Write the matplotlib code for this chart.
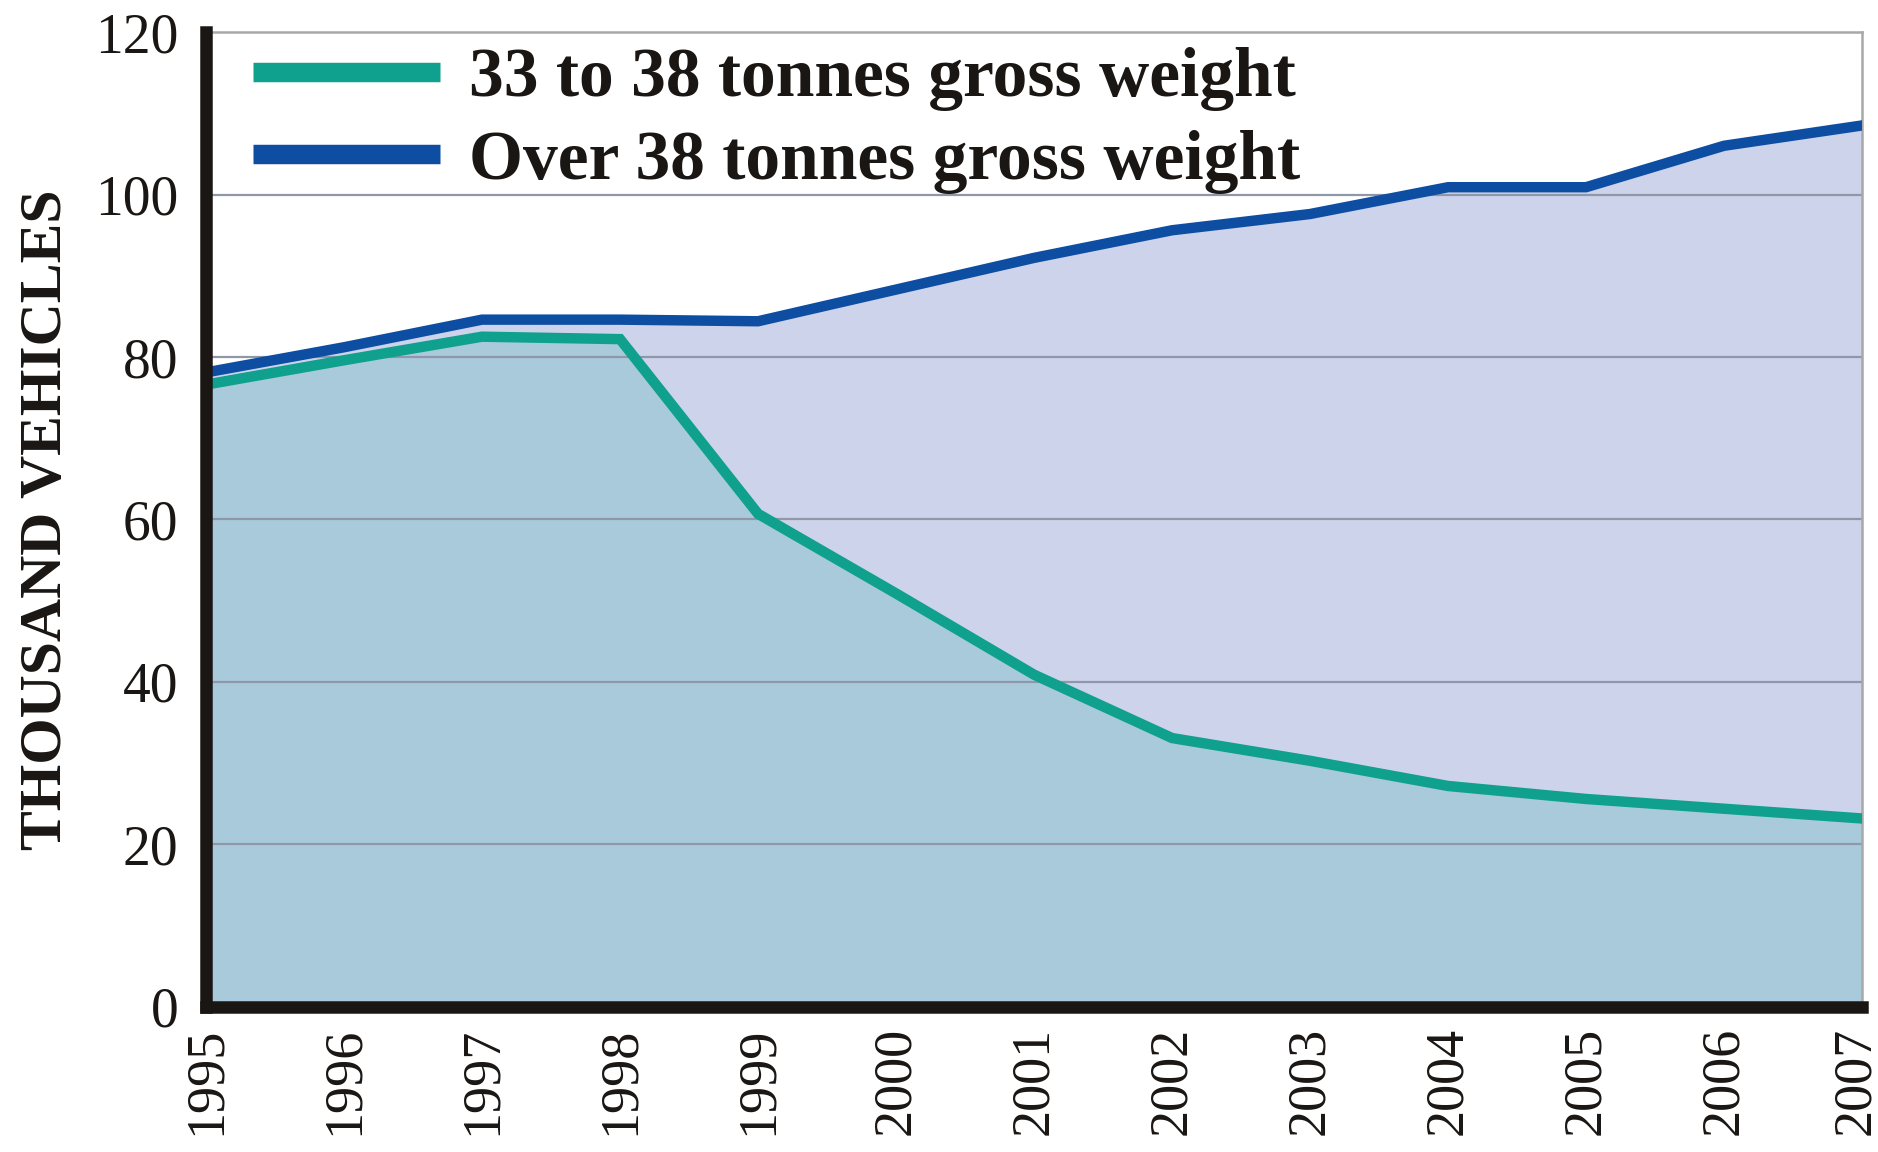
import matplotlib
matplotlib.use("Agg")
import matplotlib.pyplot as plt
import matplotlib.transforms as mtransforms
from matplotlib.lines import Line2D

years = [1995, 1996, 1997, 1998, 1999, 2000, 2001, 2002, 2003, 2004, 2005, 2006, 2007]
over_38 = [78.1, 81.2, 84.6, 84.6, 84.4, 88.3, 92.2, 95.6, 97.6, 100.9, 100.9, 106.0, 108.5]
t33_38 = [76.6, 79.6, 82.5, 82.2, 60.7, 50.9, 40.9, 33.1, 30.3, 27.2, 25.6, 24.4, 23.2]
series_labels = ["33 to 38 tonnes gross weight", "Over 38 tonnes gross weight"]
y_ticks = [0, 20, 40, 60, 80, 100, 120]
y_label = "THOUSAND VEHICLES"

GREEN = "#0fa08e"
BLUE = "#0d4da2"
FILL_LOW = "#a8cadb"
FILL_HIGH = "#cdd3ea"
GRID = "#9097a8"
INK = "#1a1614"

plt.rcParams["font.family"] = ["Liberation Serif", "DejaVu Serif"]

fig = plt.figure(figsize=(18.78, 11.52), dpi=100)
ax = fig.add_axes([0.1097, 0.1259, 0.9915 - 0.1097, 0.9722 - 0.1259])

ax.fill_between(years, 0, over_38, color=FILL_HIGH, lw=0, zorder=1)
ax.fill_between(years, 0, t33_38, color=FILL_LOW, lw=0, zorder=1.5)

for v in y_ticks[1:-1]:
    ax.axhline(v, color=GRID, lw=1.6, zorder=2)

ax.plot(years, over_38, color=BLUE, lw=7.5, solid_joinstyle="miter", zorder=3)
ax.plot(years, t33_38, color=GREEN, lw=7.5, solid_joinstyle="miter", zorder=3)

ax.set_xlim(years[0], years[-1])
ax.set_ylim(0, 120)
ax.set_yticks(y_ticks)
ax.set_yticklabels([str(v) for v in y_ticks], fontsize=40)
ax.set_xticks(years)
ax.set_xticklabels([str(y) for y in years], rotation=90, fontsize=39)
ax.tick_params(axis="both", length=0)
ax.tick_params(axis="y", pad=20)
ax.tick_params(axis="x", pad=14)

# nudge the last year label inward so it is not clipped by the figure edge
last = ax.get_xticklabels()[-1]
last.set_transform(last.get_transform() +
                   mtransforms.ScaledTranslation(-6 / 100, 0, fig.dpi_scale_trans))

for s in ["left", "bottom"]:
    ax.spines[s].set_color(INK)
    ax.spines[s].set_linewidth(9)
    ax.spines[s].set_zorder(5)
for s in ["top", "right"]:
    ax.spines[s].set_color("#a8a8a8")
    ax.spines[s].set_linewidth(1.8)

fig.text(0.025, 0.549, y_label, rotation=90, fontsize=43, fontweight="bold",
         ha="center", va="center", color=INK)

handles = [Line2D([], [], color=GREEN, lw=14, solid_capstyle="butt"),
           Line2D([], [], color=BLUE, lw=14, solid_capstyle="butt")]
leg = ax.legend(handles, series_labels, loc="upper left",
                bbox_to_anchor=(257 / 1878 - 0.006, 1 - 40 / 1152),
                bbox_transform=fig.transFigure,
                frameon=False, handlelength=2.7, handletextpad=0.42,
                labelspacing=0.27, borderpad=0.1, borderaxespad=0,
                prop={"family": ["Liberation Serif"], "weight": "bold", "size": 50})
for t in leg.get_texts():
    t.set_color(INK)

for t in ax.get_yticklabels() + ax.get_xticklabels():
    t.set_color(INK)

fig.savefig("out.png", dpi=100, facecolor="white")
